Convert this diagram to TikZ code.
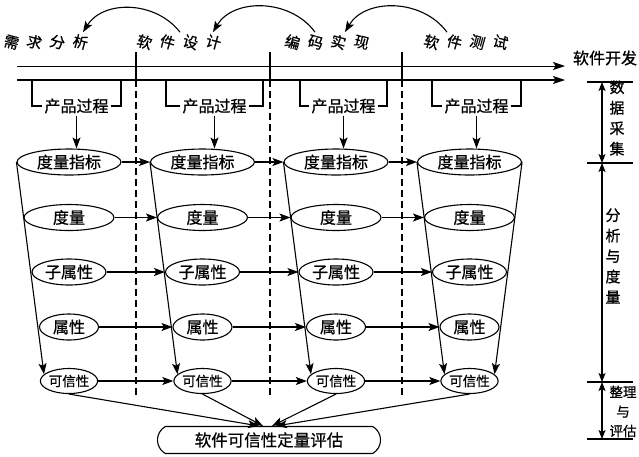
\documentclass[tikz,border=0pt]{standalone}
\usepackage{fontspec}
\usepackage{graphicx}
\setmainfont{Noto Sans CJK SC}[FakeBold=0.8]
\usetikzlibrary{shapes.geometric,shapes.misc,arrows.meta,calc}
\newcommand{\tch}[1]{\rotatebox[origin=c]{-15}{#1}}
\begin{document}
\begin{tikzpicture}[x=1pt,y=-1pt,
  every node/.style={font=\fontsize{16}{18}\selectfont},
  line/.style={line width=1.1pt},
  arr/.style={line width=1.1pt,-{Stealth[length=11pt,width=8pt,inset=2.5pt]}},
  dbl/.style={line width=1.1pt,{Stealth[length=9pt,width=7pt,inset=2pt]}-{Stealth[length=9pt,width=7pt,inset=2pt]}},
  ell/.style={draw,ellipse,line width=1.1pt,inner sep=0pt,minimum height=26pt},
  small/.style={font=\fontsize{13.5}{15}\selectfont},
  vdash/.style={line width=1.1pt,dash pattern=on 7pt off 4pt},
  phase/.style={inner sep=1pt,font=\fontsize{15}{17}\selectfont}
]
\useasboundingbox (0,0) rectangle (639,456);

% phase labels
\node[phase] (l1) at (46,42) {\tch{需}\hspace{5pt}\tch{求}\hspace{5pt}\tch{分}\hspace{5pt}\tch{析}};
\node[phase] (l2) at (179,42) {\tch{软}\hspace{5pt}\tch{件}\hspace{5pt}\tch{设}\hspace{5pt}\tch{计}};
\node[phase] (l3) at (327,42) {\tch{编}\hspace{5pt}\tch{码}\hspace{5pt}\tch{实}\hspace{5pt}\tch{现}};
\node[phase] (l4) at (466,42) {\tch{软}\hspace{5pt}\tch{件}\hspace{5pt}\tch{测}\hspace{5pt}\tch{试}};

% feedback curves
\draw[arr] ([xshift=1pt]l2.north) .. controls ($(l2.north)+(-24,-32)$) and ($(l1.north)+(57,-32)$) .. ([xshift=37pt]l1.north);
\draw[arr] ([xshift=-12pt]l3.north) .. controls ($(l3.north)+(-37,-34)$) and ($(l2.north)+(54,-34)$) .. ([xshift=34pt]l2.north);
\draw[arr] ([xshift=-19pt]l4.north) .. controls ($(l4.north)+(-44,-34)$) and ($(l3.north)+(38,-34)$) .. ([xshift=18pt]l3.north);

% timeline
\coordinate (ua) at (17,66); \coordinate (ub) at (565,66);
\coordinate (la) at (17,80); \coordinate (lb) at (565,80);
\draw[line width=0.8pt,-{Stealth[length=12pt,width=8pt,inset=2.5pt]}] (ua) -- (ub);
\draw[line width=1.2pt,-{Stealth[length=12pt,width=8pt,inset=2.5pt]}] (la) -- (lb);
\node (dev) at (605,58) {软件开发};

% separators
\foreach \x in {136,270,402} {
  \coordinate (t\x) at (\x,52);
  \coordinate (m\x) at (\x,80);
  \coordinate (e\x) at (\x,396);
  \draw[line] (t\x) -- (m\x);
  \draw[vdash] (m\x) -- (e\x);
}

% columns of ellipses
\foreach \i/\cx in {1/69,2/202.5,3/336,4/469.5} {
  \node[ell,minimum width=104pt] (m\i) at (\cx,162) {度量指标};
  \node[ell,minimum width=90pt] (d\i) at (\cx,217.5) {度量};
  \node[ell,minimum width=74pt] (z\i) at (\cx,272) {子属性};
  \node[ell,minimum width=59pt] (s\i) at (\cx,327) {属性};
  \node[ell,small,minimum width=55pt,minimum height=25pt] (k\i) at (\cx,381) {可信性};
}

% product process brackets
\foreach \i/\l/\r in {1/32/121,2/166/263,3/300/387,4/432/521} {
  \node[inner sep=2pt] (p\i) at ({(\l+\r)/2},106) {产品过程};
  \coordinate (pa\i) at (\l,80);
  \coordinate (pb\i) at (\r,80);
  \draw[line] (pa\i) |- (p\i.west);
  \draw[line] (p\i.east) -| (pb\i);
  \draw[arr] (p\i.south) -- (p\i.south |- m\i.north);
}

% horizontal arrows
\foreach \r in {m,d,z,s,k} {
  \draw[arr] (\r1.east) -- (\r2.west);
  \draw[arr] (\r2.east) -- (\r3.west);
  \draw[arr] (\r3.east) -- (\r4.west);
}

% funnel lines
\foreach \i in {1,2,3,4} {
  \draw[arr] (m\i.west) -- (k\i.165);
}
\draw[arr] (m4.east) -- (k4.15);

% final evaluation
\node[draw,rounded rectangle,rounded rectangle arc length=120,line width=1.1pt,minimum width=223pt,minimum height=27pt,inner sep=0pt,font=\fontsize{16.5}{18}\selectfont] (b) at (269,440) {软件可信性定量评估};
\draw[arr] (k1.south) -- ([xshift=-10pt]b.north);
\draw[arr] (k2.south) -- ([xshift=-6pt]b.north);
\draw[arr] (k3.south) -- ([xshift=3pt]b.north);
\draw[arr] (k4.south) -- ([xshift=7pt]b.north);

% right scale
\coordinate (r0) at (602,82);
\coordinate (r1) at (602,163);
\coordinate (r2) at (602,382);
\coordinate (r3) at (602,439);
\draw[dbl] (r0) -- (r1);
\draw[dbl] (r1) -- (r2);
\draw[dbl] (r2) -- (r3);
\foreach \n/\y in {0/82,1/163,2/382,3/439} {
  \coordinate (ha\n) at (587,\y);
  \coordinate (hb\n) at (633,\y);
  \draw[line] (ha\n) -- (hb\n);
}
\node[align=center,inner sep=0pt,font=\fontsize{15}{20.5}\selectfont] (s1) at (617,118) {数\\据\\采\\集};
\node[align=center,inner sep=0pt,font=\fontsize{15}{20.5}\selectfont] (s2) at (613,256) {分\\析\\与\\度\\量};
\node[align=center,inner sep=0pt,font=\fontsize{13.5}{19.5}\selectfont] (s3) at (623,411.5) {整理\\与\\评估};
\end{tikzpicture}
\end{document}
